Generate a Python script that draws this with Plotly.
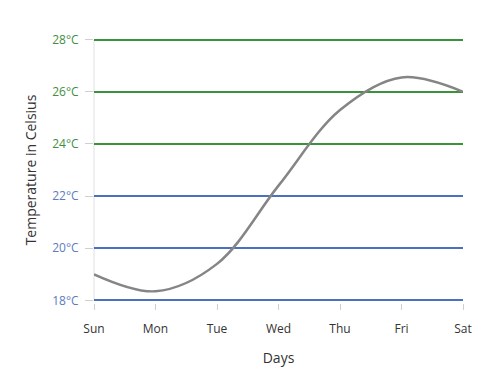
import plotly.graph_objects as go

days = ["Sun", "Mon", "Tue", "Wed", "Thu", "Fri", "Sat"]
temps = [19.0, 18.35, 19.4, 22.4, 25.3, 26.55, 26.0]
blue_ticks = [18, 20, 22]
green_ticks = [24, 26, 28]
blue_labels = [f"{v}°C" for v in blue_ticks]
green_labels = [f"{v}°C" for v in green_ticks]

FONT = "Open Sans"
BLUE = "#4a70c0"
GREEN = "#3a933a"
BLUE_TXT = "#5b7cc0"
GREEN_TXT = "#3f8f3f"
YRANGE = [17.9, 28.1]

fig = go.Figure()
# invisible trace to bind the second y axis
fig.add_trace(go.Scatter(x=days, y=temps, yaxis="y2", mode="lines",
                         line=dict(width=0), showlegend=False, hoverinfo="skip"))
fig.add_trace(go.Scatter(
    x=days, y=temps, mode="lines",
    line=dict(color="#858585", width=2.5, shape="spline", smoothing=1.0),
    showlegend=False, hoverinfo="x+y",
))

fig.update_layout(
    width=500, height=392,
    margin=dict(l=94, r=37, t=37, b=89),
    paper_bgcolor="white", plot_bgcolor="white",
    font=dict(family=FONT, size=12, color="#333"),
    xaxis=dict(
        type="category", range=[0, 6],
        showgrid=False, zeroline=False,
        showline=False,
        ticks="outside", ticklen=6, tickcolor="#d0d0d0", tickwidth=1,
        ticklabelstandoff=9,
        tickfont=dict(family=FONT, size=12, color="#333"),
        title=dict(text="Days", font=dict(family=FONT, size=14, color="#333"), standoff=16),
    ),
    yaxis=dict(
        range=YRANGE, tickvals=blue_ticks, ticktext=blue_labels,
        showgrid=True, gridcolor=BLUE, gridwidth=1.5,
        zeroline=False, showline=False,
        ticks="outside", ticklen=8, tickcolor="#d0d0d0",
        ticklabelstandoff=4,
        tickfont=dict(family=FONT, size=12, color=BLUE_TXT),
        title=dict(text="Temperature in Celsius", font=dict(family=FONT, size=14, color="#333"), standoff=12),
    ),
    yaxis2=dict(
        range=YRANGE, tickvals=green_ticks, ticktext=green_labels,
        overlaying="y", side="left",
        showgrid=True, gridcolor=GREEN, gridwidth=1.5,
        zeroline=False, showline=False,
        ticks="outside", ticklen=8, tickcolor="#d0d0d0",
        ticklabelstandoff=4,
        tickfont=dict(family=FONT, size=12, color=GREEN_TXT),
    ),
)
# faint vertical axis line on the left edge of the plot area
fig.add_shape(type="line", xref="paper", yref="y", x0=0, x1=0, y0=18, y1=28,
              line=dict(color="#e0e0e0", width=1), layer="below")
fig.write_html("out.html")
